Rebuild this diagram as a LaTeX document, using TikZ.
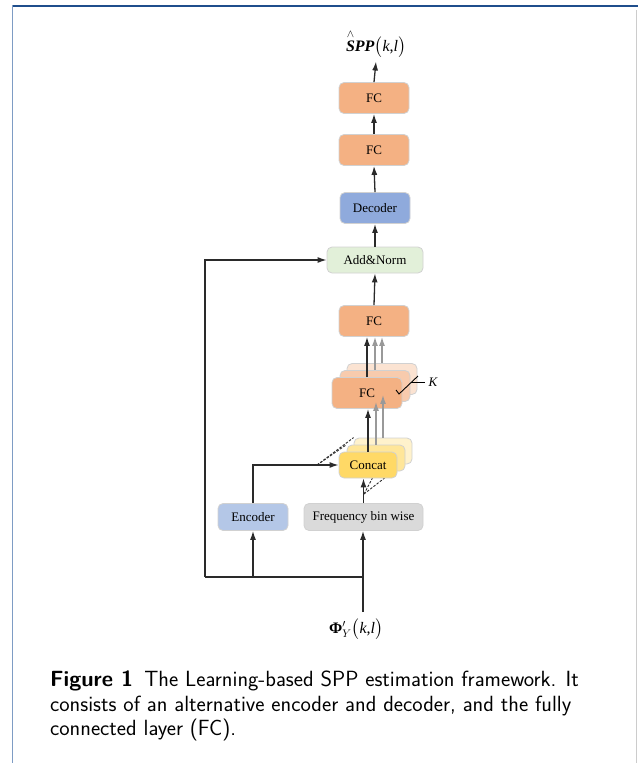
\documentclass[tikz,border=0pt]{standalone}
\usepackage{amsmath}
\usepackage{fontspec}
\setmainfont{Liberation Serif}
\usetikzlibrary{positioning,arrows.meta,backgrounds}

\definecolor{fcorange}{HTML}{F4B183}
\definecolor{fcmid}{HTML}{F8CBAD}
\definecolor{fcback}{HTML}{FBE3D2}
\definecolor{catfront}{HTML}{FFD966}
\definecolor{catmid}{HTML}{FFE699}
\definecolor{catback}{HTML}{FFF2CC}
\definecolor{decblue}{HTML}{8FAADC}
\definecolor{encblue}{HTML}{B4C7E7}
\definecolor{addgreen}{HTML}{E2F0D9}
\definecolor{bingrey}{HTML}{DADADA}
\definecolor{framedark}{HTML}{1F4E8C}
\definecolor{framelight}{HTML}{7E9CC4}
\definecolor{linegrey}{HTML}{2A2A2A}

\begin{document}
\begin{tikzpicture}[
	x=1pt,y=-1pt,
	blk/.style={
		rounded corners=5pt,
		draw=black!18,
		line width=0.8pt,
		minimum width=70pt,
		minimum height=31pt,
		inner sep=0pt,
		font=\fontsize{13}{13}\selectfont
	},
	fcbox/.style={blk,fill=fcorange},
	catbox/.style={blk,minimum width=58pt,minimum height=26pt,fill=catfront},
	flow/.style={->,line width=1.3pt,draw=linegrey},
	ghost/.style={->,line width=1.3pt,draw=black!40},
	dashlink/.style={dashed,dash pattern=on 2.5pt off 1.5pt,line width=0.9pt,draw=linegrey},
	>={Latex[length=9pt,width=6pt]}
	]
	\useasboundingbox (0,0) rectangle (638,763);
	% frame
	\draw[framedark,line width=2pt] (12,6) -- (638,6);
	\draw[framelight,line width=1pt] (12.5,5) -- (12.5,763);
	\draw[black!20,line width=1pt] (636.5,10) -- (636.5,763);

	% top of the stack
	\node[font=\fontsize{16}{16}\selectfont] (spp) at (376,44)
		{$\overset{\wedge}{\textbf{\textit{S}}}$\textbf{\textit{PP}}$\big($\textit{k},\textit{l}$\big)$};
	\node[fcbox] (fc5) at (374,98) {FC};
	\node[fcbox] (fc4) at (374,150) {FC};
	\node[blk,fill=decblue] (dec) at (375,208) {Decoder};
	\node[blk,fill=addgreen,minimum width=96pt,minimum height=26pt] (add) at (375,260) {Add\&Norm};
	\node[fcbox] (fc3) at (374,321) {FC};

	% K copies of FC
	\node[fcbox,fill=fcback] (fcC) at (382,379) {};
	\node[fcbox,fill=fcmid] (fcB) at (375,386) {};
	\node[fcbox] (fcA) at (367,393) {FC};

	% concat copies
	\node[catbox,fill=catback] (catC) at (383,451) {};
	\node[catbox,fill=catmid] (catB) at (376,458) {};
	\node[catbox] (catA) at (368,465) {Concat};

	\node[blk,fill=encblue,minimum height=27pt] (enc) at (253,517) {Encoder};
	\node[blk,fill=bingrey,minimum width=119pt,minimum height=27pt] (bin) at (363.5,517) {Frequency bin wise};

	\node[font=\fontsize{16}{16}\selectfont] (phi) at (356,629)
		{\textbf{Φ}$^{\prime}_{Y}\big($\textit{k},\textit{l}$\big)$};
	\node[font=\fontsize{13}{13}\selectfont\itshape] (kk) at (433,382) {K};

	\coordinate (in) at (363,612);
	\coordinate (jn) at (363,577);
	\coordinate (lft) at (205,577);
	\coordinate (split) at (317,465);
	\coordinate (bsplit) at (364,494);

	% connectors
	\draw[flow] (fc5.north) -- (spp.south);
	\draw[flow] (fc4.north) -- (fc5.south);
	\draw[flow] (dec.north) -- (fc4.south);
	\draw[flow] (add.north) -- (dec.south);
	\draw[flow] (fc3.north) -- (add.south);
	\draw[flow] (fcA.north) -- (fcA.north |- fc3.south);
	\foreach \cp in {fcB,fcC}
		\draw[ghost] (\cp.north) -- (\cp.north |- fc3.south);
	\draw[flow] (catA.north) -- (catA.north |- fcA.south);
	\draw[ghost] (catB.north) -- (catB.north |- fcB.south);
	\draw[ghost] (catC.north) -- (catC.north |- fcC.south);
	\draw[flow] (enc.north) |- (catA.west);
	\draw[flow] (bin.north) -- (bin.north |- catA.south);
	\begin{pgfonlayer}{background}
		\foreach \cp in {catB,catC}
			\draw[dashlink] (split) -- (\cp.north west);
		\draw[dashlink] (bsplit) -- (catB.south);
		\draw[dashlink] (bsplit) -- ([xshift=19pt]catC.south);
	\end{pgfonlayer}
	\draw[flow] (in) -- (in |- bin.south);
	\draw[line width=1.3pt,linegrey] (jn) -- (lft);
	\draw[flow] (lft) |- (add.west);
	\draw[flow] (enc.south |- jn) -- (enc.south);
	% K marker
	\draw[line width=0.9pt] (396,390) -- (399,394) -- (418,376);
	\draw[line width=0.9pt] (411,382) -- (kk.west);

	% caption
	\node[anchor=north west,inner sep=0pt,align=left,
		font=\sffamily\fontsize{22}{24.5}\selectfont] (cap) at (50,671)
		{\textbf{Figure 1}\enspace The Learning-based SPP estimation framework. It\\
		consists of an alternative encoder and decoder, and the fully\\
		connected layer (FC).};
\end{tikzpicture}
\end{document}
